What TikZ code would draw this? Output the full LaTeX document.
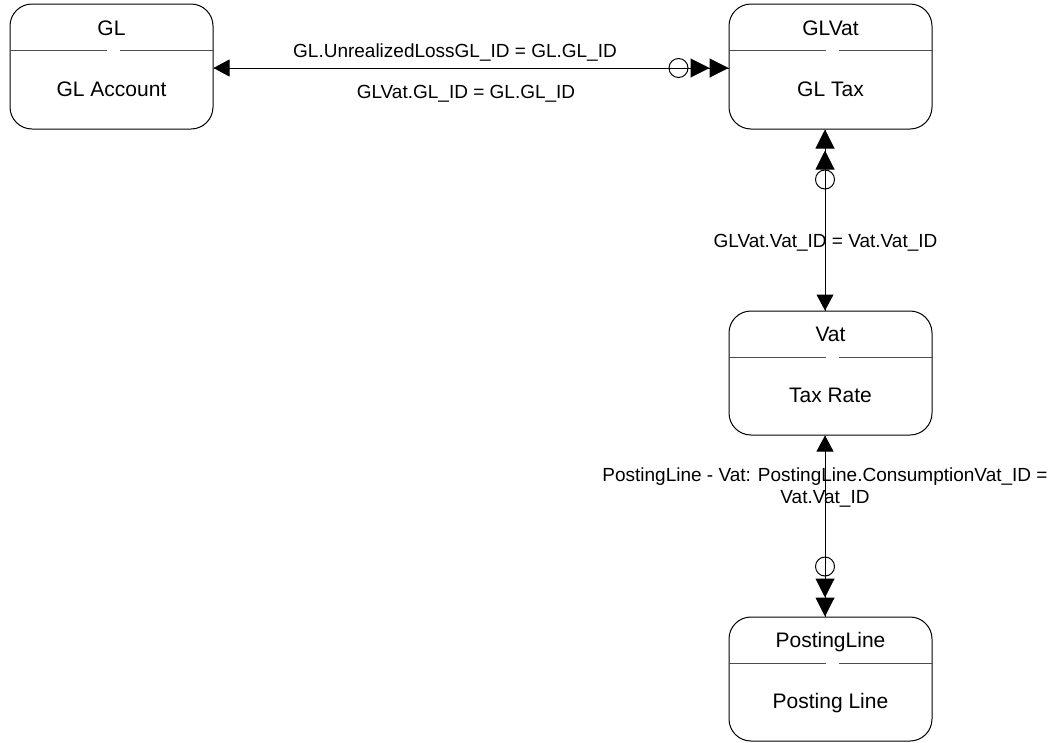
\documentclass[tikz,border=0pt]{standalone}
\usepackage{fontspec}
\setmainfont{Liberation Sans}
\usetikzlibrary{arrows.meta,calc}
\begin{document}
\begin{tikzpicture}[x=1pt,y=-1pt,
  every node/.style={font=\fontsize{19}{22}\selectfont, inner sep=0pt, text=black},
  entity/.style={draw=black, line width=1pt, rounded corners=22pt, minimum width=203pt, minimum height=125pt},
  divider/.style={draw=black!70, line width=1pt},
  conn/.style={draw=black, line width=1pt},
  lbl/.style={anchor=base, align=center},
  ttl/.style={anchor=base, font=\fontsize{21}{24}\selectfont}
]
\useasboundingbox (0,0) rectangle (1057,742);

% entities
\node[entity] (gl)    at (111.5,66.5) {};
\node[entity] (glvat) at (830.5,66.5) {};
\node[entity, minimum height=124pt] (vat) at (830.5,373) {};
\node[entity, minimum height=124pt] (pl)  at (830.5,679) {};

% titles and bodies
\node[ttl] (gltitle)    at ($(gl.north)+(0,32)$) {GL};
\node[ttl] (glbody)     at ($(gl.north)+(0,92.5)$) {GL Account};
\node[ttl] (glvattitle) at ($(glvat.north)+(0,32)$) {GLVat};
\node[ttl] (glvatbody)  at ($(glvat.north)+(0,92.5)$) {GL Tax};
\node[ttl] (vattitle)   at ($(vat.north)+(0,31)$) {Vat};
\node[ttl] (vatbody)    at ($(vat.north)+(0,92)$) {Tax Rate};
\node[ttl] (pltitle)    at ($(pl.north)+(0,31)$) {PostingLine};
\node[ttl] (plbody)     at ($(pl.north)+(0,92)$) {Posting Line};

% dividers (with small gap)
\foreach \b in {gl,glvat,vat,pl}{
  \draw[divider] ($(\b.north west)+(0,47)$) -- ($(\b.north)+(-5,47)$);
  \draw[divider] ($(\b.north)+(8,47)$) -- ($(\b.north east)+(0,47)$);
}

% connector GL -- GLVat
\coordinate (c1a) at ($(gl.east)+(0,1.5)$);
\coordinate (c1b) at ($(glvat.west)+(0,1.5)$);
\draw[conn] (c1a) -- (c1b);
\draw[conn, {Triangle[length=16pt,width=17pt]}-{Circle[open,length=20pt,sep=2pt] Triangle[length=19pt,width=19pt,sep=0pt] Triangle[length=19pt,width=19pt]}] (c1a) -- (c1b);
\node[lbl] (l1) at (455,57) {GL.UnrealizedLossGL\_ID = GL.GL\_ID};
\node[lbl] (l2) at (466,98) {GLVat.GL\_ID = GL.GL\_ID};

% connector GLVat -- Vat
\coordinate (c2a) at ($(glvat.south)+(-5.5,0)$);
\coordinate (c2b) at ($(vat.north)+(-5.5,0)$);
\draw[conn] (c2a) -- (c2b);
\draw[conn, {Triangle[length=19pt,width=19pt,sep=0pt] Triangle[length=19pt,width=19pt,sep=2pt] Circle[open,length=20pt]}-{Triangle[length=16pt,width=17pt]}] (c2a) -- (c2b);
\node[lbl] (l3) at (825.5,247) {GLVat.Vat\_ID = Vat.Vat\_ID};

% connector Vat -- PostingLine
\coordinate (c3a) at ($(vat.south)+(-5.5,0)$);
\coordinate (c3b) at ($(pl.north)+(-5.5,0)$);
\draw[conn] (c3a) -- (c3b);
\draw[conn, {Triangle[length=16pt,width=17pt]}-{Circle[open,length=20pt,sep=2pt] Triangle[length=19pt,width=19pt,sep=0pt] Triangle[length=19pt,width=19pt]}] (c3a) -- (c3b);
\node[lbl] (l4) at (825,503) {PostingLine - Vat: PostingLine.ConsumptionVat\_ID =\\Vat.Vat\_ID};
\end{tikzpicture}
\end{document}
